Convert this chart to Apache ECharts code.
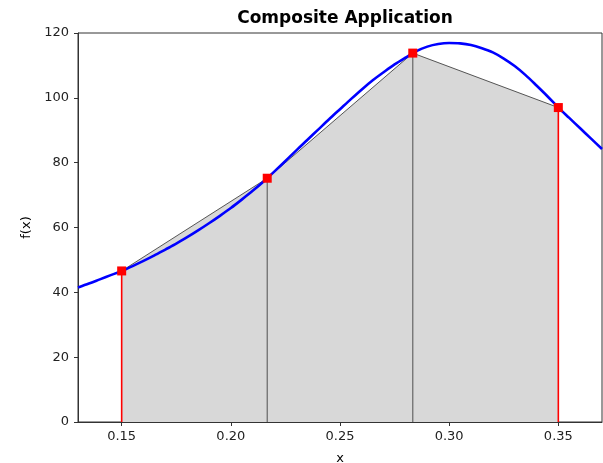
<!DOCTYPE html>
<html>
<head>
<meta charset="utf-8">
<script src="https://cdn.jsdelivr.net/npm/echarts@6/dist/echarts.min.js"></script>
<style>
  html, body { margin: 0; padding: 0; background: #fff; }
  #chart { width: 603px; height: 463px; }
</style>
</head>
<body>
<div id="chart"></div>
<script>
// f(x) curve
var curveX = [0.130, 0.135, 0.140, 0.145, 0.150, 0.155, 0.160, 0.165, 0.170, 0.175,
  0.180, 0.185, 0.190, 0.195, 0.200, 0.205, 0.210, 0.215, 0.220, 0.225,
  0.230, 0.235, 0.240, 0.245, 0.250, 0.255, 0.260, 0.265, 0.270, 0.275,
  0.280, 0.285, 0.290, 0.295, 0.300, 0.305, 0.310, 0.315, 0.320, 0.325,
  0.330, 0.335, 0.340, 0.345, 0.350, 0.355, 0.360, 0.365, 0.370]
var curveY = [41.5, 42.7, 44.0, 45.3, 46.6, 48.1, 49.7, 51.4, 53.2, 55.0,
  57.0, 59.1, 61.3, 63.6, 66.0, 68.6, 71.3, 74.2, 77.3, 80.5,
  83.8, 87.0, 90.2, 93.4, 96.5, 99.6, 102.6, 105.4, 107.9, 110.3,
  112.4, 114.4, 115.8, 116.6, 116.9, 116.8, 116.3, 115.3, 114.0, 112.1,
  109.8, 107.0, 103.8, 100.5, 97.0, 93.8, 90.6, 87.4, 84.2]

// trapezoid nodes
var nodeX = [0.15, 0.21667, 0.28333, 0.35]
var nodeY = [46.6, 75.2, 113.8, 97.0]

var xTicks = [0.15, 0.20, 0.25, 0.30, 0.35]

var FONT = 'DejaVu Sans'

var chart = echarts.init(document.getElementById('chart'))

var series = []

// shaded trapezoids
series.push({
  type: 'line',
  data: nodeX.map(function(x, i) { return [x, nodeY[i]] }),
  showSymbol: false,
  lineStyle: { color: '#444', width: 0.9 },
  areaStyle: { color: '#d8d8d8', opacity: 1, origin: 0 },
  z: 1
})

// vertical edges
nodeX.forEach(function(x, i) {
  var edge = i === 0 || i === nodeX.length - 1
  series.push({
    type: 'line',
    data: [[x, 0], [x, nodeY[i]]],
    showSymbol: false,
    lineStyle: { color: edge ? '#ff0000' : '#666', width: edge ? 1.6 : 1.2 },
    z: 2
  })
})

// the function
series.push({
  type: 'line',
  data: curveX.map(function(x, i) { return [x, curveY[i]] }),
  smooth: 0.3,
  showSymbol: false,
  lineStyle: { color: '#0000ff', width: 2.6 },
  z: 3
})

// node markers
series.push({
  type: 'scatter',
  data: nodeX.map(function(x, i) { return [x, nodeY[i]] }),
  symbol: 'rect',
  symbolSize: 9,
  itemStyle: { color: '#ff0000', opacity: 1 },
  z: 4
})

chart.setOption({
  animation: false,
  textStyle: { fontFamily: FONT },
  title: {
    text: 'Composite Application',
    left: 340,
    textAlign: 'center',
    top: 5,
    textStyle: { fontFamily: FONT, fontWeight: 'bold', fontSize: 17, color: '#000' }
  },
  grid: {
    left: 78,
    right: 1,
    top: 33,
    bottom: 41,
    outerBoundsMode: 'none',
    show: true,
    borderColor: '#333',
    borderWidth: 1
  },
  xAxis: {
    type: 'value',
    min: 0.13,
    max: 0.37,
    name: 'x',
    nameLocation: 'middle',
    nameGap: 30,
    nameTextStyle: { fontFamily: FONT, fontSize: 13, color: '#000' },
    axisLine: { lineStyle: { color: '#333' } },
    axisTick: { customValues: xTicks, length: 4, lineStyle: { color: '#333' } },
    axisLabel: {
      customValues: xTicks,
      fontFamily: FONT,
      fontSize: 13,
      color: '#222',
      margin: 8,
      formatter: function(v) { return v.toFixed(2) }
    },
    splitLine: { show: false }
  },
  yAxis: {
    type: 'value',
    min: 0,
    max: 120,
    interval: 20,
    name: 'f(x)',
    nameLocation: 'middle',
    nameGap: 45,
    nameTextStyle: { fontFamily: FONT, fontSize: 13, color: '#000' },
    axisLine: { show: true, lineStyle: { color: '#333' } },
    axisTick: { show: true, length: 4, lineStyle: { color: '#333' } },
    axisLabel: { fontFamily: FONT, fontSize: 13, color: '#222', margin: 9 },
    splitLine: { show: false }
  },
  series: series
})
</script>
</body>
</html>
